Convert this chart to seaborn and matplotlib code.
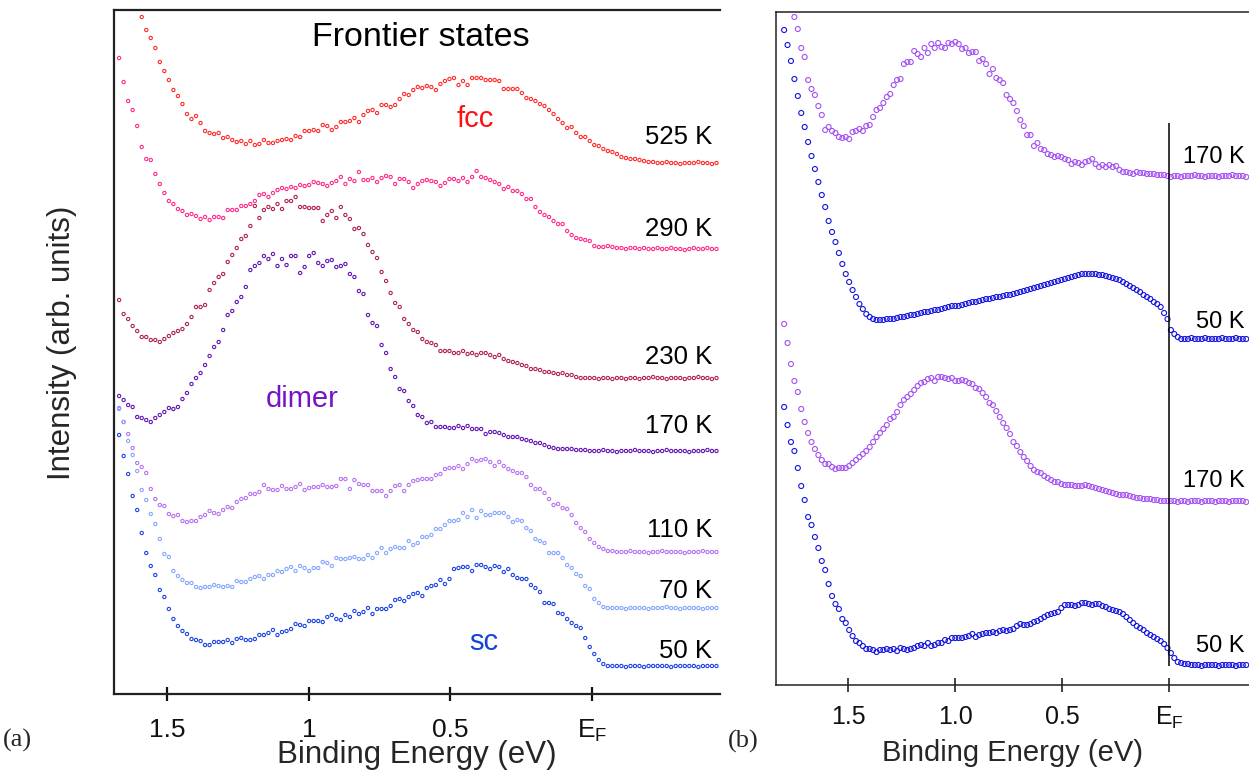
import numpy as np
import pandas as pd
import matplotlib
matplotlib.use("Agg")
import matplotlib.pyplot as plt
import seaborn as sns

# ------------------------------------------------------------------
# Energy sampling (binding energy, eV): spectra are sampled every 16 meV
STEP = 0.016
E0_A = 1.671          # first grid energy, panel (a)
E0_B = 1.800          # first grid energy, panel (b)

# ------------------------------ panel (a) -------------------------
temps_a = ["525 K", "290 K", "230 K", "170 K", "110 K", "70 K", "50 K"]
first_a = [5, 0, 0, 0, 0, 0, 0]   # first visible grid index of each spectrum

int_525 = [677, 664, 656, 646, 632, 623, 614, 604, 598, 590,
           580, 575, 578, 571, 563, 561, 560, 561, 556, 557,
           554, 552, 553, 550, 553, 549, 550, 554, 551, 551,
           553, 554, 555, 554, 558, 557, 563, 563, 564, 563,
           569, 568, 564, 567, 572, 572, 573, 576, 572, 579,
           583, 584, 581, 589, 589, 587, 589, 595, 600, 599,
           604, 607,
           606, 608, 607, 604, 610, 613, 615, 616, 609, 613,
           609, 616, 616, 616, 614, 614, 614, 613, 605, 605,
           605, 605, 601, 596, 595, 593, 590, 588, 584, 580,
           575, 571, 566, 567, 561, 557, 557, 553, 549, 548,
           545, 543, 542, 540, 537, 536, 535, 535, 534, 533,
           532, 532,
           531, 531, 532, 531, 531, 530, 531, 531, 531, 532, 531, 531, 530, 531]

int_290 = [636, 612, 593, 584, 568, 547, 535, 534, 520, 510,
           501, 493, 490, 485, 483, 479, 480, 478, 475, 477,
           474, 477, 477, 476, 484, 484, 484, 488, 488, 490,
           493, 499, 500, 497, 501, 504, 506, 505, 507, 506,
           509, 508, 509, 512, 511, 510, 508, 511, 513, 517,
           510, 515, 513, 522, 514, 514, 516, 512, 516, 518,
           517, 510, 515, 515, 512, 506, 510,
           513, 514, 513, 512, 508, 511, 515, 515, 513, 516,
           512, 517, 523, 517, 516, 514, 512, 510, 505, 507,
           503, 503, 500, 495, 495, 487, 482, 479, 477, 473,
           470, 470, 463, 459, 456, 455, 454, 453, 448, 447,
           447, 448, 447, 446, 446, 445, 446, 446, 445, 446,
           445,
           445, 446, 445, 445, 446, 445, 445, 444, 445, 446, 445, 445, 446, 445, 445]

int_230 = [394, 380, 375, 368, 363, 357, 357, 354, 354, 352,
           355, 358, 361, 363, 365, 370, 377, 387, 387, 389,
           404, 411, 417, 420, 432, 439, 446, 455, 458, 468,
           488, 476, 484, 487, 485, 490, 485, 493, 493, 497,
           487, 487, 486, 486, 486, 473, 479, 483, 476, 487,
           479, 475, 465, 466, 460, 449, 442, 436, 422, 413,
           401, 391, 387, 375, 370, 364, 362,
           355, 352, 351, 349, 343, 343, 343, 341, 341, 343,
           340, 341, 339, 341, 341, 339, 337, 339, 335, 333,
           332, 331, 329, 328, 325, 325, 324, 322, 322, 321,
           320, 321, 319, 319, 317, 316, 316, 316,
           316, 315, 316, 316, 315, 316, 316, 315, 316, 316,
           315, 316, 316, 317, 316, 316, 315, 316, 316, 316,
           315, 316, 316, 317, 316, 316, 315, 316]

int_170 = [298, 294, 289, 287, 277, 276, 274, 272, 276, 279,
           282, 286, 285, 287, 295, 301, 310, 316, 321, 329,
           338, 347, 352, 364, 379, 383, 392, 397, 407, 424,
           428, 431, 438, 435, 440, 428, 435, 429, 438, 438,
           421, 427, 438, 441, 431, 428, 433, 434, 427, 428,
           430, 420, 417, 403, 400, 379, 371, 368, 349, 341,
           325, 317, 305, 303, 293, 288, 279,
           277, 271, 272, 267, 267, 267, 266, 266, 268, 266,
           268, 265, 265, 265, 260, 262, 262, 261, 259, 257,
           257, 257, 255, 254, 253, 251, 251, 249, 247, 246,
           245, 245, 245, 245, 244, 244, 244, 243,
           243, 243, 244, 243, 243, 242, 243, 243, 243, 244,
           243, 243, 243, 242, 243, 243, 244, 243, 243, 243,
           243, 242, 243, 243, 243, 244, 243, 243]

int_110 = [286, 272, 260, 246, 231, 227, 221, 205, 195, 189,
           188, 180, 178, 179, 173, 172, 173, 173, 177, 179,
           183, 181, 180, 184, 187, 186, 192, 195, 196, 200,
           200, 202, 209, 205, 204, 204, 208, 205, 205, 207,
           210, 204, 206, 207, 207, 209, 207, 207, 208, 215,
           215, 205, 214, 210, 209, 209, 203, 203, 203, 198,
           203, 208, 209, 203, 209, 213, 214,
           215, 215, 215, 219, 220, 225, 226, 226, 228, 225,
           230, 235, 233, 234, 235, 232, 228, 232, 228, 225,
           223, 221, 221, 217, 209, 205, 205, 201, 195, 189,
           190, 186, 185, 179, 171, 166, 162, 155, 151, 147,
           145, 143, 143, 142,
           142, 142, 143, 142, 142, 142, 141, 142, 142, 143,
           142, 142, 142, 142, 141, 142, 142, 142, 143, 142,
           142, 142]

int_70 = [285, 272, 253, 239, 223, 204, 194, 180, 170, 155,
          140, 137, 123, 118, 114, 111, 111, 107, 106, 107,
          107, 109, 108, 107, 108, 107, 113, 112, 112, 115,
          117, 118, 115, 119, 119, 123, 122, 125, 127, 123,
          128, 126, 123, 126, 126, 132, 131, 128, 136, 135,
          135, 136, 137, 135, 135, 139, 136, 141, 146, 141,
          145, 147, 146, 146, 153, 149, 151,
          157, 157, 159, 165, 165, 169, 173, 173, 174, 181,
          177, 184, 176, 183, 179, 179, 181, 181, 181, 177,
          172, 174, 173, 166, 163, 155, 153, 151, 141, 141,
          141, 136, 129, 126, 120, 118, 108, 105, 95, 91,
          87, 86, 86,
          86, 86, 85, 86, 86, 86, 86, 85, 86, 86,
          86, 87, 86, 86, 85, 86, 86, 86, 86, 85,
          86, 86, 86]

int_50 = [259, 238, 220, 198, 184, 161, 141, 128, 119, 104,
          97, 85, 75, 68, 63, 60, 55, 54, 53, 49,
          49, 52, 52, 52, 54, 51, 55, 56, 54, 54,
          55, 59, 59, 61, 64, 59, 62, 63, 65, 70,
          69, 68, 73, 73, 73, 72, 77, 79, 75, 74,
          79, 77, 83, 80, 82, 86, 80, 85, 85, 85,
          88, 94, 95, 93, 97, 100, 101,
          98, 106, 108, 109, 114, 110, 115, 125, 126, 127,
          127, 123, 129, 129, 127, 125, 128, 127, 122, 125,
          119, 116, 115, 115, 109, 106, 102, 91, 91, 90,
          81, 80, 75, 71, 68, 66, 56, 47, 40, 34,
          30, 28, 28,
          28, 28, 27, 28, 28, 28, 27, 28, 28, 28,
          28, 28, 27, 28, 28, 28, 28, 28, 27, 28,
          28, 28, 28]

spectra_a = [int_525, int_290, int_230, int_170, int_110, int_70, int_50]
colors_a = ["#ff2b2b", "#ff2a8c", "#b0234f", "#6314b4", "#b673f2", "#86a6ff", "#1c44e2"]

# ------------------------------ panel (b) -------------------------
temps_b = ["170 K", "50 K", "170 K", "50 K"]
first_b = [3, 0, 0, 0]

b_170_top = [668, 656, 637, 628, 605, 596, 590, 579, 570, 555,
             558, 554, 552, 548, 547, 548, 546, 553, 554, 556,
             554, 559, 560, 568, 575, 577, 582, 588, 591, 600,
             605, 606, 621, 623, 623, 634, 631, 628, 637, 632,
             641, 637, 642, 638, 637, 642, 641, 643, 641, 636,
             637, 632, 633, 633, 624, 626, 621, 611, 616, 607,
             605, 602, 590, 586, 582, 574, 565, 559, 550, 550,
             539, 542, 536, 535, 531, 530, 528, 529, 528, 526,
             525, 521, 523, 522, 520, 523, 524, 526, 521, 518,
             520, 518, 520, 518, 519, 515, 513, 513, 512, 511,
             513, 512, 512, 511, 511, 511, 510, 510, 510, 509,
             508,
             509, 509, 508, 509, 509, 509, 510, 509, 509, 508, 509,
             509, 509, 508, 509, 509, 509, 510, 509, 509, 509, 508]

b_50_top = [655, 640, 624, 606, 589, 572, 558, 543, 529, 516,
            503, 490, 478, 464, 453, 443, 432, 421, 411, 403,
            395, 388, 381, 376, 371, 368, 366, 365, 365, 365,
            366, 366, 366, 367, 368, 368, 369, 370, 370, 371,
            372, 373, 373, 374, 375, 375, 376, 377, 378, 379,
            379, 379, 380, 381, 382, 383, 383, 384, 385, 386,
            386, 387, 388, 388, 389, 390, 390, 391, 392, 393,
            394, 395, 396, 397, 398, 399, 400, 401, 402, 403,
            404, 405, 406, 407, 408, 409, 410, 411, 411, 411,
            411, 411, 410, 410, 409, 408, 407, 406, 405, 403,
            401, 399, 397, 395, 393, 390, 388, 386, 383, 381,
            378, 372, 366, 355, 351, 348, 346, 346,
            346, 347, 346, 346, 346, 347, 346, 346, 346, 346,
            347, 346, 346, 346, 347, 346, 346, 346]

b_170_bot = [361, 342, 321, 304, 293, 276, 263, 252, 243, 236,
             230, 225, 221, 221, 218, 216, 217, 217, 217, 219,
             222, 225, 228, 231, 234, 238, 243, 248, 252, 256,
             260, 266, 268, 273, 280, 285, 288, 291, 295, 299,
             302, 303, 306, 307, 304, 308, 308, 307, 306, 307,
             304, 304, 305, 304, 302, 301, 297, 296, 292, 288,
             282, 280, 274, 268, 262, 257, 251, 243,
             239, 233, 228, 224, 219, 215, 213, 212, 209, 207,
             205, 203, 203, 201, 200, 200, 200, 199, 199, 199,
             200, 199, 198, 197, 196, 195, 194, 193, 192, 191,
             190, 190, 190, 189, 188, 187, 187, 186, 186, 186,
             185, 185, 184, 184, 184, 184,
             184, 183, 184, 184, 183, 184, 184, 184, 183, 184, 184,
             184, 183, 184, 184, 184, 183, 184, 184, 184, 184, 183]

b_50_bot = [278, 260, 243, 234, 217, 199, 185, 168, 160, 148,
            137, 124, 115, 101, 89, 81, 76, 66, 62, 55,
            49, 44, 42, 39, 36, 36, 35, 33, 35, 35,
            36, 35, 36, 34, 37, 36, 35, 36, 37, 39,
            40, 39, 42, 39, 40, 42, 42, 45, 44, 47,
            47, 47, 47, 48, 49, 51, 48, 50, 51, 52,
            52, 53, 52, 54, 55, 54, 55, 56,
            59, 61, 60, 60, 61, 63, 64, 66, 68, 70,
            71, 72, 73, 77, 80, 80, 80, 79, 80, 82,
            82, 81, 80, 81, 81, 79, 78, 76, 75, 74,
            73, 71, 68, 65, 62, 59, 57, 55, 52, 50,
            48, 46, 44, 41, 37, 32, 27, 23, 22, 21,
            21, 20,
            20, 20, 19, 20, 20, 20, 20, 19, 20, 20,
            20, 20, 19, 20, 20, 20]

spectra_b = [b_170_top, b_50_top, b_170_bot, b_50_bot]
colors_b = ["#a452f2", "#1414e0", "#a452f2", "#1414e0"]

tick_vals = [1.5, 1.0, 0.5, 0.0]
tick_labels_a = ["1.5", "1", "0.5", r"$\mathregular{E_F}$"]
tick_labels_b = ["1.5", "1.0", "0.5", r"$\mathregular{E_F}$"]


def long_table(spectra, names, firsts, e0):
    rows = []
    for idx, (vals, name, k0) in enumerate(zip(spectra, names, firsts)):
        e = e0 - STEP * (k0 + np.arange(len(vals)))
        rows.append(pd.DataFrame({"energy": e, "intensity": vals,
                                  "curve": f"{idx}:{name}"}))
    return pd.concat(rows, ignore_index=True)


df_a = long_table(spectra_a, temps_a, first_a, E0_A)
df_b = long_table(spectra_b, temps_b, first_b, E0_B)

# ------------------------------ styling ---------------------------
sns.set_theme(style="ticks")
plt.rcParams["font.family"] = ["Liberation Sans", "DejaVu Sans"]
plt.rcParams["mathtext.default"] = "regular"

W, H = 1249, 783
fig = plt.figure(figsize=(W / 100, H / 100), dpi=100)
ax_a = fig.add_axes([114 / W, (H - 694) / H, 606 / W, 684 / H])
ax_b = fig.add_axes([776 / W, (H - 685) / H, 473 / W, 673.3 / H])

for curve, col in zip(df_a["curve"].unique(), colors_a):
    sub = df_a[df_a["curve"] == curve]
    sns.scatterplot(data=sub, x="energy", y="intensity", ax=ax_a, marker="o",
                    s=5.5, color=col, facecolor="none", edgecolor=col,
                    linewidth=0.8, legend=False, clip_on=True)

for curve, col in zip(df_b["curve"].unique(), colors_b):
    sub = df_b[df_b["curve"] == curve]
    sns.scatterplot(data=sub, x="energy", y="intensity", ax=ax_b, marker="o",
                    s=13, color=col, facecolor="none", edgecolor=col,
                    linewidth=0.8, legend=False, clip_on=True)

# axes ranges
ax_a.set_xlim(1.689, -0.4535)
ax_a.set_ylim(0, 684)
ax_b.set_xlim(1.838, -0.373)
ax_b.set_ylim(0, 673.3)

for ax, labs, lw, ln, pad, ls in ((ax_a, tick_labels_a, 1.6, 10, 12, 19),
                                  (ax_b, tick_labels_b, 1.1, 10.5, 9, 18)):
    ax.set_xticks(tick_vals)
    ax.set_xticklabels(labs)
    ax.set_yticks([])
    ax.tick_params(axis="x", direction="inout", length=ln, width=lw,
                   pad=pad, labelsize=ls, colors="#111111")
    ax.spines["right"].set_visible(False)
    for sp in ("left", "top", "bottom"):
        ax.spines[sp].set_linewidth(lw)
        ax.spines[sp].set_color("#222222")

ax_a.set_xlabel("Binding Energy (eV)", fontsize=22.5, labelpad=-3)
ax_b.set_xlabel("Binding Energy (eV)", fontsize=21, labelpad=6)
ax_a.set_ylabel("Intensity (arb. units)", fontsize=22.5)
ax_a.yaxis.set_label_coords(-0.061, 0.514)
ax_b.set_ylabel("")

# vertical Fermi-level marker in panel (b)
ax_b.vlines(0.0, 19, 562, color="black", linewidth=1.1)

# ------------------------------ text ------------------------------
ax_a.text(0.506, 0.947, "Frontier states", transform=ax_a.transAxes,
          ha="center", va="baseline", fontsize=24.5, color="black")
ax_a.text(0.5965, 0.829, "fcc", transform=ax_a.transAxes, ha="center",
          va="baseline", fontsize=21, color="#ff1010")
ax_a.text(0.310, 0.420, "dimer", transform=ax_a.transAxes, ha="center",
          va="baseline", fontsize=21, color="#7412cc")
ax_a.text(0.610, 0.0643, "sc", transform=ax_a.transAxes, ha="center",
          va="baseline", fontsize=21, color="#1444d6")

label_y_a = [144, 235.5, 364, 433.5, 537, 598.5, 657.5]   # baselines (px)
for t, yb in zip(temps_a, label_y_a):
    ax_a.text(0.987, (694 - yb) / 684, t, transform=ax_a.transAxes,
              ha="right", va="baseline", fontsize=18.5, color="black")

label_y_b = [163.3, 328.3, 487.3, 652.3]
for t, yb in zip(temps_b, label_y_b):
    ax_b.text(0.9915, (685 - yb) / 673.3, t, transform=ax_b.transAxes,
              ha="right", va="baseline", fontsize=17, color="black")

fig.text(17.5 / W, (H - 740) / H, "(a)", ha="center", va="center",
         fontsize=19, family=["Liberation Serif", "DejaVu Serif"])
fig.text(743 / W, (H - 741) / H, "(b)", ha="center", va="center",
         fontsize=19, family=["Liberation Serif", "DejaVu Serif"])

fig.savefig("out.png", dpi=100)
